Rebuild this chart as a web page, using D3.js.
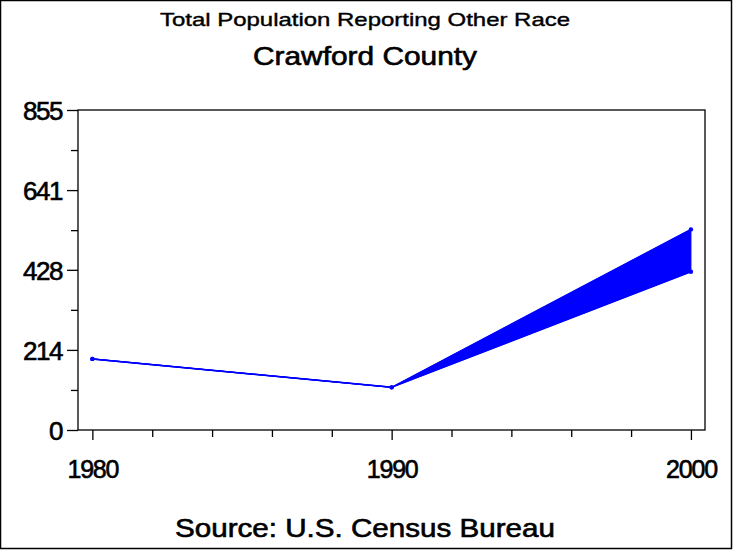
<!DOCTYPE html>
<html>
<head>
<meta charset="utf-8">
<script src="https://cdn.jsdelivr.net/npm/d3@7"></script>
<style>
  html, body { margin: 0; padding: 0; background: #fff; }
  svg { display: block; }
  text { font-family: "Liberation Sans", Arial, sans-serif; fill: #000; stroke: #000; stroke-width: 0.6px; }
</style>
</head>
<body>
<div id="chart"></div>
<script>
// Total Population Reporting Other Race — Crawford County

// ---- Data ----
const years = [1980, 1990, 2000];
const upperValues = [190, 114, 536];
const lowerValues = [190, 114, 423];
const yTickValues = [0, 214, 428, 641, 855];
const yMinorTicks = [107, 321, 534, 748];
const xTickValues = [1980, 1990, 2000];
const xMinorTicks = [1982, 1984, 1986, 1988, 1992, 1994, 1996, 1998];

const titleText = "Total Population Reporting Other Race";
const subtitleText = "Crawford County";
const footnoteText = "Source: U.S. Census Bureau";

const rows = years.map((yr, i) => ({ year: yr, hi: upperValues[i], lo: lowerValues[i] }));

// ---- Layout / scales ----
const W = 733, H = 550;
const plot = { left: 78, right: 705, top: 110, bottom: 430 };

const svg = d3.select("#chart").append("svg")
  .attr("width", W)
  .attr("height", H);

// outer border
svg.append("rect")
  .attr("x", 0.5).attr("y", 0.5)
  .attr("width", W - 2).attr("height", H - 2)
  .attr("fill", "none").attr("stroke", "#000").attr("stroke-width", 1.5);

const x = d3.scaleLinear().domain([1979.52, 2000.47]).range([plot.left, plot.right]);
const y = d3.scaleLinear().domain([0, 855]).range([plot.bottom, plot.top]);

// titles
svg.append("text")
  .attr("x", 365).attr("y", 26)
  .attr("text-anchor", "middle")
  .attr("textLength", 410).attr("lengthAdjust", "spacingAndGlyphs")
  .style("font-size", "19px")
  .style("stroke-width", "0.4px")
  .text(titleText);

svg.append("text")
  .attr("x", 365).attr("y", 65)
  .attr("text-anchor", "middle")
  .attr("textLength", 224).attr("lengthAdjust", "spacingAndGlyphs")
  .style("font-size", "25px")
  .text(subtitleText);

svg.append("text")
  .attr("x", 365).attr("y", 537)
  .attr("text-anchor", "middle")
  .attr("textLength", 380).attr("lengthAdjust", "spacingAndGlyphs")
  .style("font-size", "25px")
  .text(footnoteText);

// plot frame
svg.append("rect")
  .attr("x", plot.left).attr("y", plot.top)
  .attr("width", plot.right - plot.left).attr("height", plot.bottom - plot.top)
  .attr("fill", "none").attr("stroke", "#000").attr("stroke-width", 1.3);

// y axis
const yAxis = svg.append("g")
  .attr("transform", `translate(${plot.left},0)`)
  .call(d3.axisLeft(y).tickValues(yTickValues).tickSize(11).tickPadding(5).tickFormat(d3.format("d")));
yAxis.select(".domain").remove();
yAxis.selectAll("line").attr("stroke", "#000").attr("stroke-width", 1.3);
yAxis.selectAll("text")
  .attr("font-family", null)
  .attr("fill", null)
  .style("font-size", "26px")
  .style("letter-spacing", "-1.5px")
  .attr("dy", "0.36em");

const yMinor = svg.append("g")
  .attr("transform", `translate(${plot.left},0)`)
  .call(d3.axisLeft(y).tickValues(yMinorTicks).tickSize(7).tickFormat(""));
yMinor.select(".domain").remove();
yMinor.selectAll("line").attr("stroke", "#000").attr("stroke-width", 1.3);

// x axis
const xAxis = svg.append("g")
  .attr("transform", `translate(0,${plot.bottom})`)
  .call(d3.axisBottom(x).tickValues(xTickValues).tickSize(10).tickPadding(20).tickFormat(d3.format("d")));
xAxis.select(".domain").remove();
xAxis.selectAll("line").attr("stroke", "#000").attr("stroke-width", 1.3);
xAxis.selectAll("text")
  .attr("font-family", null)
  .attr("fill", null)
  .style("font-size", "25px")
  .style("letter-spacing", "-1.2px");

const xMinor = svg.append("g")
  .attr("transform", `translate(0,${plot.bottom})`)
  .call(d3.axisBottom(x).tickValues(xMinorTicks).tickSize(7).tickFormat(""));
xMinor.select(".domain").remove();
xMinor.selectAll("line").attr("stroke", "#000").attr("stroke-width", 1.3);

// band between the two series
const band = d3.area()
  .x(d => x(d.year))
  .y0(d => y(d.lo))
  .y1(d => y(d.hi));

svg.append("path")
  .datum(rows)
  .attr("d", band)
  .attr("fill", "#0000ff")
  .attr("stroke", "#0000ff")
  .attr("stroke-width", 1);

const lineHi = d3.line().x(d => x(d.year)).y(d => y(d.hi));
const lineLo = d3.line().x(d => x(d.year)).y(d => y(d.lo));

svg.append("path").datum(rows).attr("d", lineHi)
  .attr("fill", "none").attr("stroke", "#0000ff").attr("stroke-width", 1.5);
svg.append("path").datum(rows).attr("d", lineLo)
  .attr("fill", "none").attr("stroke", "#0000ff").attr("stroke-width", 1.5);

// markers
const pts = rows.flatMap(d => [{ year: d.year, v: d.hi }, { year: d.year, v: d.lo }]);
svg.selectAll(".pt").data(pts).enter().append("circle")
  .attr("class", "pt")
  .attr("cx", d => x(d.year))
  .attr("cy", d => y(d.v))
  .attr("r", 2.2)
  .attr("fill", "#0000ff");
</script>
</body>
</html>
